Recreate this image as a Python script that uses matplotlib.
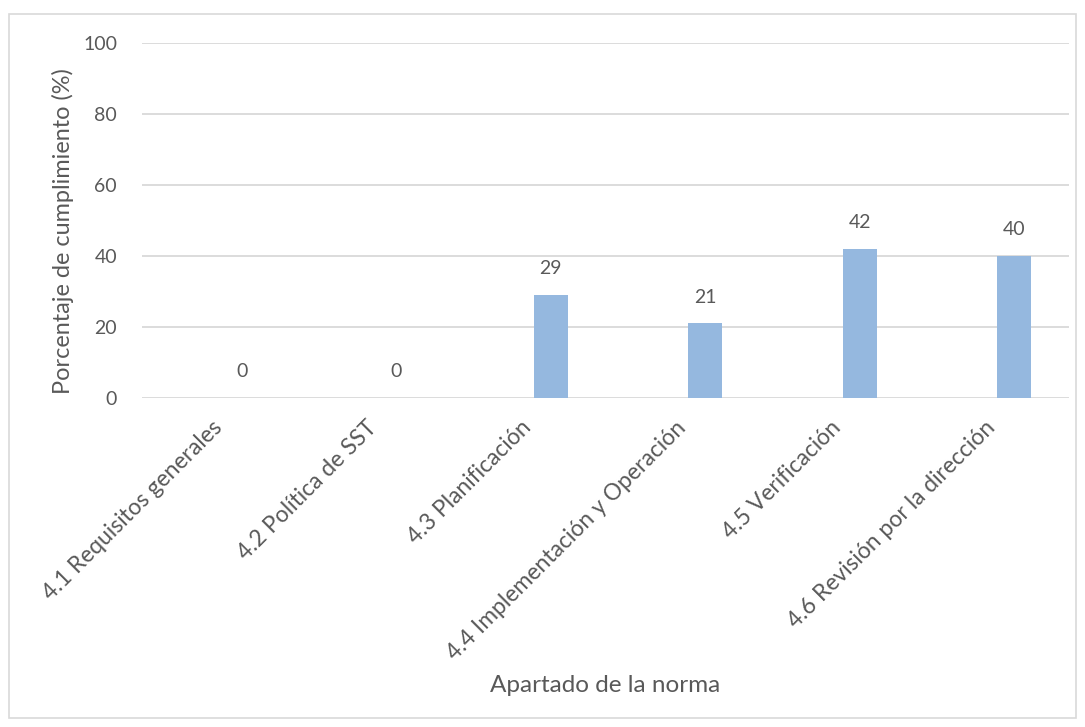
import matplotlib
matplotlib.use("Agg")
import matplotlib.pyplot as plt
from matplotlib.patches import Rectangle
import numpy as np

# datos
apartados = ["4.1 Requisitos generales", "4.2 Política de SST", "4.3 Planificación",
             "4.4 Implementación y Operación", "4.5 Verificación",
             "4.6 Revisión por la dirección"]
cumplimiento = [0, 0, 29, 21, 42, 40]
yticks = [0, 20, 40, 60, 80, 100]

gris = "#595959"
plt.rcParams["font.family"] = ["Lato", "DejaVu Sans"]

fig = plt.figure(figsize=(10.85, 7.27), dpi=100)
ax = fig.add_axes([0.1309, 0.4525, 0.8544, 0.4883])

x = np.arange(len(apartados))
offset = 0.145  # serie desplazada dentro del grupo (como en Excel)
ax.bar(x + offset, cumplimiento, width=0.22, color="#95B8DF", zorder=3)

for xi, v in zip(x, cumplimiento):
    ax.annotate(str(v), (xi + offset, v), xytext=(0, 19), textcoords="offset points",
                ha="center", va="center", fontsize=14, color=gris)

ax.set_xlim(-0.5, len(apartados) - 0.5)
ax.set_ylim(0, 100)
ax.set_yticks(yticks)
ax.yaxis.grid(True, color="#D9D9D9", linewidth=1.3, zorder=0)
ax.set_axisbelow(True)
for s in ax.spines.values():
    s.set_visible(False)
ax.tick_params(axis="both", length=0, labelcolor=gris)
ax.tick_params(axis="y", pad=18, labelsize=14)
ax.tick_params(axis="x", pad=19, labelsize=16.5)
ax.set_xticks(x)
ax.set_xticklabels(apartados, rotation=45, ha="right", va="center", rotation_mode="anchor")

fig.text(63 / 1085, 1 - 231 / 727, "Porcentaje de cumplimiento (%)", rotation=90,
         ha="center", va="center", fontsize=16.9, color=gris)
fig.text(605 / 1085, 1 - 685 / 727, "Apartado de la norma",
         ha="center", va="center", fontsize=17.5, color=gris)

fig.patches.append(Rectangle((9 / 1085, 1 - 718 / 727), 1067 / 1085, 704 / 727,
                             transform=fig.transFigure, fill=False,
                             edgecolor="#D9D9D9", linewidth=1.2))

fig.savefig("out.png", dpi=100)
